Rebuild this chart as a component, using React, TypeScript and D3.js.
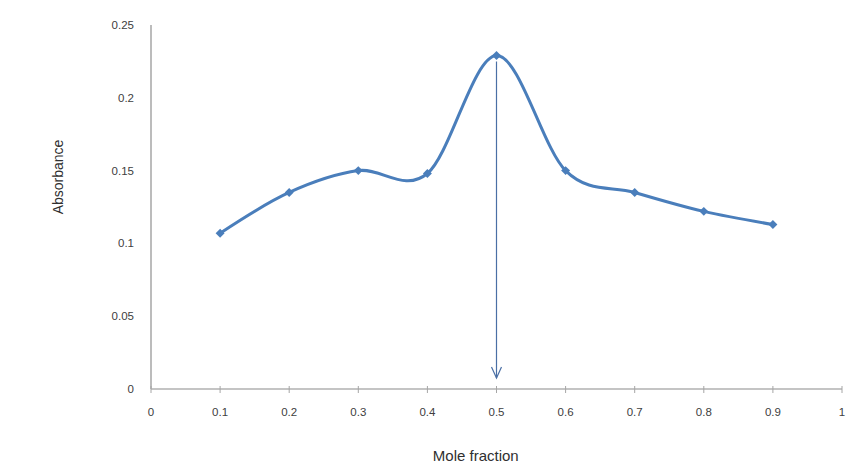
import React, { useEffect, useRef } from "react";
import * as d3 from "d3";

const moleFraction = [0.1, 0.2, 0.3, 0.4, 0.5, 0.6, 0.7, 0.8, 0.9];
const absorbance = [0.107, 0.135, 0.15, 0.148, 0.229, 0.15, 0.135, 0.122, 0.113];
const xTicks = [0, 0.1, 0.2, 0.3, 0.4, 0.5, 0.6, 0.7, 0.8, 0.9, 1];
const yTicks = [0, 0.05, 0.1, 0.15, 0.2, 0.25];
const peakX = 0.5;

const App = () => {
  const ref = useRef<SVGSVGElement>(null);

  useEffect(() => {
    const svg = d3.select(ref.current);
    svg.selectAll("*").remove();

    const width = 866;
    const height = 476;
    const margin = { top: 25, right: 24, bottom: 87, left: 151 };

    const x = d3.scaleLinear().domain([0, 1]).range([margin.left, width - margin.right]);
    const y = d3.scaleLinear().domain([0, 0.25]).range([height - margin.bottom, margin.top]);

    const font = "'Liberation Sans', Arial, sans-serif";

    // y axis line (no ticks)
    svg
      .append("line")
      .attr("x1", x(0))
      .attr("x2", x(0))
      .attr("y1", y(0.25))
      .attr("y2", y(0))
      .attr("stroke", "#a6a6a6")
      .attr("stroke-width", 1.5);

    svg
      .append("g")
      .selectAll("text")
      .data(yTicks)
      .join("text")
      .attr("x", x(0) - 17)
      .attr("y", (d) => y(d))
      .attr("dy", "0.35em")
      .attr("text-anchor", "end")
      .style("font-family", font)
      .style("font-size", "11.5px")
      .attr("fill", "#404040")
      .text((d) => d);

    // x axis
    svg
      .append("line")
      .attr("x1", x(0))
      .attr("x2", x(1))
      .attr("y1", y(0))
      .attr("y2", y(0))
      .attr("stroke", "#b0b0b0")
      .attr("stroke-width", 1.5);

    svg
      .append("g")
      .selectAll("line")
      .data(xTicks)
      .join("line")
      .attr("x1", (d) => x(d))
      .attr("x2", (d) => x(d))
      .attr("y1", y(0) - 3)
      .attr("y2", y(0) + 4)
      .attr("stroke", "#a6a6a6")
      .attr("stroke-width", 1);

    svg
      .append("g")
      .selectAll("text")
      .data(xTicks)
      .join("text")
      .attr("x", (d) => x(d))
      .attr("y", y(0) + 27)
      .attr("text-anchor", "middle")
      .style("font-family", font)
      .style("font-size", "11.5px")
      .attr("fill", "#404040")
      .text((d) => d);

    // axis titles
    svg
      .append("text")
      .attr("transform", `translate(63,${(y(0.25) + y(0)) / 2 - 30}) rotate(-90)`)
      .attr("text-anchor", "middle")
      .style("font-family", font)
      .style("font-size", "14px")
      .attr("fill", "#303030")
      .text("Absorbance");

    svg
      .append("text")
      .attr("x", x(0.47))
      .attr("y", 461)
      .attr("text-anchor", "middle")
      .style("font-family", font)
      .style("font-size", "15px")
      .attr("fill", "#303030")
      .text("Mole fraction");

    const data = moleFraction.map((m, i) => ({ m, a: absorbance[i] }));

    // smoothed line
    const line = d3
      .line<{ m: number; a: number }>()
      .x((d) => x(d.m))
      .y((d) => y(d.a))
      .curve(d3.curveCardinal.tension(0));

    svg
      .append("path")
      .datum(data)
      .attr("d", line)
      .attr("fill", "none")
      .attr("stroke", "#4a7ebb")
      .attr("stroke-width", 3)
      .attr("stroke-linecap", "round");

    // diamond markers (rotated squares)
    const diamond = d3.symbol().type(d3.symbolSquare).size(40);
    svg
      .append("g")
      .selectAll("path")
      .data(data)
      .join("path")
      .attr("transform", (d) => `translate(${x(d.m)},${y(d.a)}) rotate(45)`)
      .attr("d", diamond)
      .attr("fill", "#4a7ebb");

    // arrow from peak down to axis
    const peakA = absorbance[moleFraction.indexOf(peakX)];
    const tipY = y(0) - 11;
    svg
      .append("line")
      .attr("x1", x(peakX))
      .attr("x2", x(peakX))
      .attr("y1", y(peakA) + 6)
      .attr("y2", tipY)
      .attr("stroke", "#4a6fa5")
      .attr("stroke-width", 1.2);
    svg
      .append("path")
      .attr(
        "d",
        `M${x(peakX) - 5},${tipY - 11}L${x(peakX)},${tipY}L${x(peakX) + 5},${tipY - 11}`
      )
      .attr("fill", "none")
      .attr("stroke", "#4a6fa5")
      .attr("stroke-width", 1.2);
  }, []);

  return (
    <svg
      ref={ref}
      width={866}
      height={476}
      style={{ position: "absolute", left: 0, top: 0, background: "#fff" }}
    />
  );
};

export default App;
